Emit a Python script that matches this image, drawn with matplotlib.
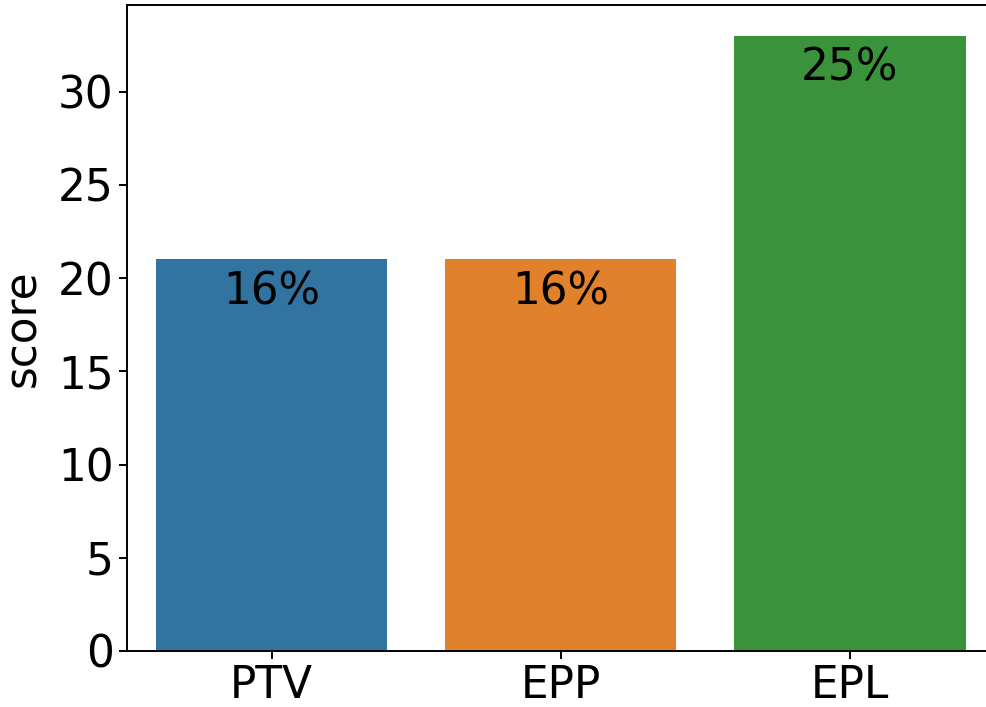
import matplotlib
matplotlib.use("Agg")
import matplotlib.pyplot as plt

categories = ["PTV", "EPP", "EPL"]
scores = [21, 21, 33]
labels = ["16%", "16%", "25%"]
colors = ["#3274a1", "#e1812c", "#3a923a"]

FS = 31.5

fig = plt.figure(figsize=(9.86, 7.07), dpi=100)
ax = fig.add_axes([127 / 986, 56 / 707, 867.5 / 986, 646 / 707])

x = range(len(categories))
ax.bar(x, scores, width=0.8, color=colors)
for xi, s, lab in zip(x, scores, labels):
    ax.text(xi, s - 0.6, lab, ha="center", va="top", fontsize=FS)

ax.set_xlim(-0.5, 2.5)
ax.set_ylim(0, 34.65)
ax.set_xticks(list(x))
ax.set_xticklabels(categories)
ax.set_ylabel("score", fontsize=FS, labelpad=10)
ax.tick_params(labelsize=FS, length=6.1, width=1.4)
for sp in ax.spines.values():
    sp.set_linewidth(1.4)

fig.savefig("out.png", dpi=100)
